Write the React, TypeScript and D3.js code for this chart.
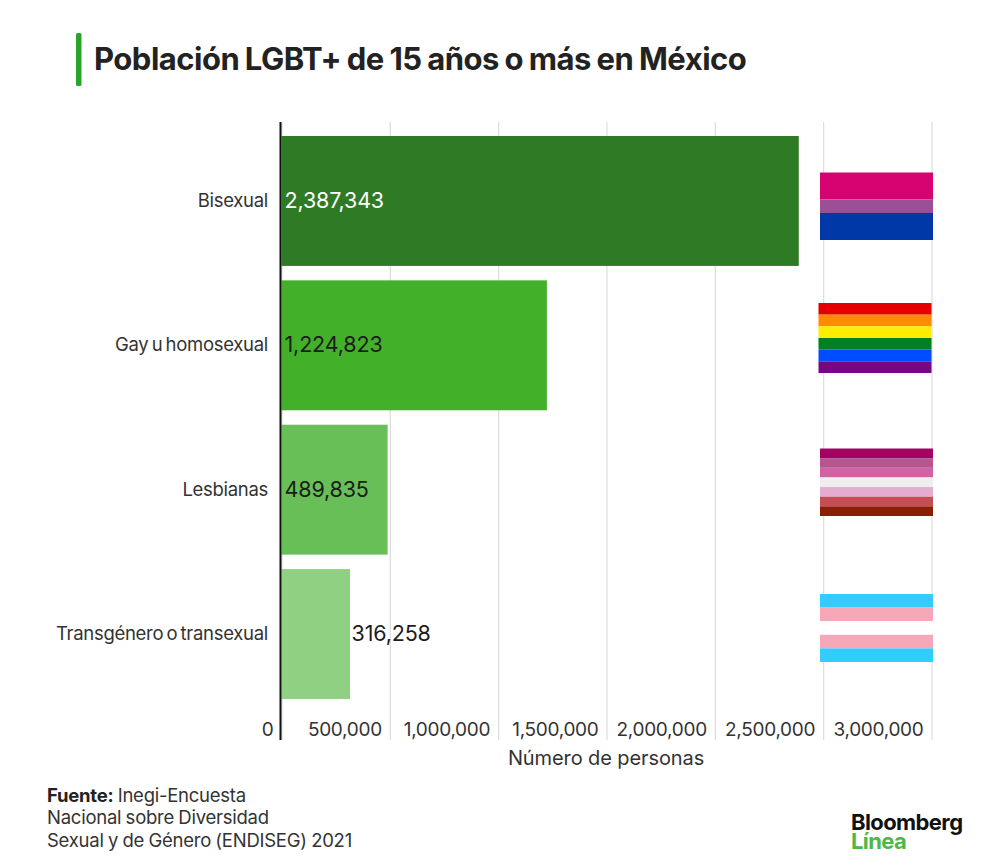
import { axisBottom, cumsum, format, scaleBand, scaleLinear, select, sum } from 'd3';
import React, { useEffect, useRef } from 'react';

const categories = ['Bisexual', 'Gay u homosexual', 'Lesbianas', 'Transgénero o transexual'];
const values = [2387343, 1224823, 489835, 316258];
const barColors = ['#2f7a25', '#43b02a', '#69bf57', '#90d082'];
const valueColors = ['#ffffff', '#1c1c1c', '#1c1c1c', '#1c1c1c'];
const tickValues = [0, 500000, 1000000, 1500000, 2000000, 2500000, 3000000];

// stripes of each flag, top to bottom, with relative heights
const flagStripes = [
  ['#d60270', '#9b4f96', '#0038a8'],
  ['#e40000', '#ff8c00', '#ffed00', '#008026', '#004dff', '#750787'],
  ['#a30262', '#b55690', '#d162a4', '#eeeeee', '#e4acd0', '#c54e54', '#8a1e04'],
  ['#33ccff', '#f7a8b8', '#ffffff', '#f7a8b8', '#33ccff'],
];
const flagWeights = [
  [2, 1, 2],
  [1, 1, 1, 1, 1, 1],
  [1, 1, 1, 1, 1, 1, 1],
  [1, 1, 1, 1, 1],
];
const flagTops = [172.5, 303, 448.5, 594];
const flagHeights = [67.5, 70, 67.5, 68];
const flagLefts = [820, 818.5, 820, 820];

const sourceLines = ['Nacional sobre Diversidad', 'Sexual y de Género (ENDISEG) 2021'];

const FONT = 'Inter, "Liberation Sans", Arial, sans-serif';
const INK = '#222222';

const App: React.FC = () => {
  const svgRef = useRef<SVGSVGElement>(null);

  useEffect(() => {
    const svg = select(svgRef.current);
    svg.selectAll('*').remove();

    const xScale = scaleLinear().domain([0, 3000000]).range([281.5, 931.5]);
    const yScale = scaleBand<string>()
      .domain(categories)
      .range([136, 699])
      .paddingInner(0.1)
      .paddingOuter(0);

    // Title
    svg
      .append('rect')
      .attr('x', 76)
      .attr('y', 33)
      .attr('width', 5.5)
      .attr('height', 53)
      .attr('rx', 1.5)
      .attr('fill', '#2aa52a');
    svg
      .append('text')
      .attr('x', 94)
      .attr('y', 70)
      .attr('font-size', 31)
      .attr('font-weight', 700)
      .attr('letter-spacing', -0.5)
      .attr('word-spacing', -1.2)
      .attr('fill', INK)
      .text('Población LGBT+ de 15 años o más en México');

    // Axis with grid
    const xAxis = axisBottom(xScale)
      .tickValues(tickValues)
      .tickSize(-618)
      .tickFormat((d) => format(',')(d as number));
    const axisG = svg
      .append('g')
      .attr('transform', 'translate(0, 740)')
      .call(xAxis);
    axisG.select('.domain').remove();
    axisG.selectAll('.tick line').attr('stroke', '#dcdcdc').attr('stroke-width', 1.2);
    axisG
      .selectAll('.tick text')
      .attr('x', -8.5)
      .attr('y', -4)
      .attr('dy', 0)
      .attr('text-anchor', 'end')
      .attr('font-family', FONT)
      .attr('font-size', 19)
      .attr('letter-spacing', -0.3)
      .attr('fill', '#333333');
    svg
      .append('text')
      .attr('x', 606)
      .attr('y', 765)
      .attr('text-anchor', 'middle')
      .attr('font-size', 20)
      .attr('letter-spacing', -0.1)
      .attr('fill', '#333333')
      .text('Número de personas');

    // Bars
    svg
      .selectAll('.bar')
      .data(values)
      .join('rect')
      .attr('class', 'bar')
      .attr('x', xScale(0))
      .attr('y', (_, i) => yScale(categories[i]) as number)
      .attr('width', (d) => xScale(d) - xScale(0))
      .attr('height', yScale.bandwidth())
      .attr('fill', (_, i) => barColors[i]);

    // Zero line
    svg
      .append('line')
      .attr('x1', 280.5)
      .attr('x2', 280.5)
      .attr('y1', 122)
      .attr('y2', 740)
      .attr('stroke', '#111111')
      .attr('stroke-width', 2);

    // Category labels
    svg
      .selectAll('.cat')
      .data(categories)
      .join('text')
      .attr('class', 'cat')
      .attr('x', 268)
      .attr('y', (d) => (yScale(d) as number) + yScale.bandwidth() / 2 + 6)
      .attr('text-anchor', 'end')
      .attr('font-size', 18.5)
      .attr('letter-spacing', -0.3)
      .attr('word-spacing', -1.6)
      .attr('fill', '#333333')
      .text((d) => d);

    // Value labels
    svg
      .selectAll('.val')
      .data(values)
      .join('text')
      .attr('class', 'val')
      .attr('x', (d, i) => (i === 3 ? xScale(d) + 1.5 : xScale(0) + 3))
      .attr('y', (_, i) => (yScale(categories[i]) as number) + yScale.bandwidth() / 2 + 7)
      .attr('font-size', 21.5)
      .attr('letter-spacing', -0.15)
      .attr('fill', (_, i) => valueColors[i])
      .text((d) => format(',')(d));

    // Flags
    flagStripes.forEach((stripes, f) => {
      const weights = flagWeights[f];
      const edges = [0, ...cumsum(weights)];
      const stripeY = scaleLinear()
        .domain([0, sum(weights)])
        .range([flagTops[f], flagTops[f] + flagHeights[f]]);
      svg
        .append('g')
        .selectAll('rect')
        .data(stripes)
        .join('rect')
        .attr('x', flagLefts[f])
        .attr('y', (_, i) => stripeY(edges[i]))
        .attr('width', 113)
        .attr('height', (_, i) => stripeY(edges[i + 1]) - stripeY(edges[i]))
        .attr('fill', (d) => d);
    });

    // Source
    const source = svg
      .append('text')
      .attr('x', 47)
      .attr('y', 802)
      .attr('font-size', 18.5)
      .attr('letter-spacing', -0.25)
      .attr('word-spacing', -0.6)
      .attr('fill', '#333333');
    source.append('tspan').attr('font-weight', 700).attr('fill', INK).text('Fuente:');
    source.append('tspan').text(' Inegi-Encuesta');
    svg
      .selectAll('.src')
      .data(sourceLines)
      .join('text')
      .attr('class', 'src')
      .attr('x', 47)
      .attr('y', (_, i) => 824 + i * 23)
      .attr('font-size', 18.5)
      .attr('letter-spacing', -0.25)
      .attr('word-spacing', -0.6)
      .attr('fill', '#333333')
      .text((d) => d);

    // Logo
    const logo = svg
      .append('text')
      .attr('font-size', 22)
      .attr('font-weight', 700)
      .attr('letter-spacing', -0.6);
    logo.append('tspan').attr('x', 851).attr('y', 830).attr('fill', '#111111').text('Bloomberg');
    logo.append('tspan').attr('x', 851).attr('y', 849).attr('fill', '#4cb848').text('Línea');
  }, []);

  return (
    <svg
      ref={svgRef}
      width={1000}
      height={868}
      style={{ position: 'absolute', left: 0, top: 0, background: '#fff', fontFamily: FONT }}
    />
  );
};

export default App;
